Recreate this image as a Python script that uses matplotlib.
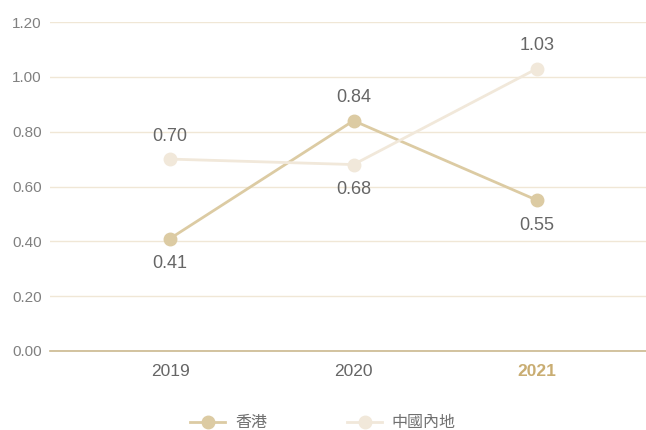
import matplotlib.pyplot as plt

plt.rcParams['font.family'] = ['Liberation Sans', 'Noto Sans CJK TC']

years = ['2019', '2020', '2021']
hk = [0.41, 0.84, 0.55]
mainland = [0.70, 0.68, 1.03]
hk_pos = ['below', 'above', 'below']
ml_pos = ['above', 'below', 'above']

c_hk = '#dccba3'
c_ml = '#f1e8da'

fig = plt.figure(figsize=(6.46, 4.30), dpi=100)
ax = fig.add_axes([50 / 646, 79 / 430, 596 / 646, 329 / 430])

x = range(len(years))
ax.plot(x, hk, color=c_hk, lw=2, marker='o', ms=9, label='香港', zorder=3)
ax.plot(x, mainland, color=c_ml, lw=2, marker='o', ms=9, label='中國內地', zorder=3)

# data labels above / below the points
for vals, pos in [(hk, hk_pos), (mainland, ml_pos)]:
    for xi, v, p in zip(x, vals, pos):
        off = 23 if p == 'above' else -25
        ax.annotate(f'{v:.2f}', (xi, v), xytext=(0, off), textcoords='offset pixels',
                    ha='center', va='center', fontsize=13, color='#666666')

ax.set_xlim(-0.654, 2.594)
ax.set_ylim(0, 1.2)
ax.set_yticks([0, 0.2, 0.4, 0.6, 0.8, 1.0, 1.2])
ax.set_yticklabels([f'{t:.2f}' for t in ax.get_yticks()])
ax.grid(axis='y', color='#f0e7d6', lw=1)
ax.set_axisbelow(True)
for s in ['top', 'right', 'left']:
    ax.spines[s].set_visible(False)
ax.spines['bottom'].set_color('#cbb98f')
ax.spines['bottom'].set_linewidth(1.2)
ax.tick_params(axis='y', length=0, labelsize=11, labelcolor='#808080', pad=6)
ax.tick_params(axis='x', length=0, labelsize=12.5, labelcolor='#666666', pad=9)
ax.set_xticks(list(x))
ax.set_xticklabels(years)
lab = ax.get_xticklabels()[-1]
lab.set_color('#c9ad72')
lab.set_fontweight('bold')

fig.legend(loc='center', bbox_to_anchor=(0.5, 7 / 430), ncol=2, frameon=False,
           fontsize=11.5, labelcolor='#707070', handlelength=2.2, columnspacing=5,
           handletextpad=0.6)

fig.savefig('out.png', dpi=100)
